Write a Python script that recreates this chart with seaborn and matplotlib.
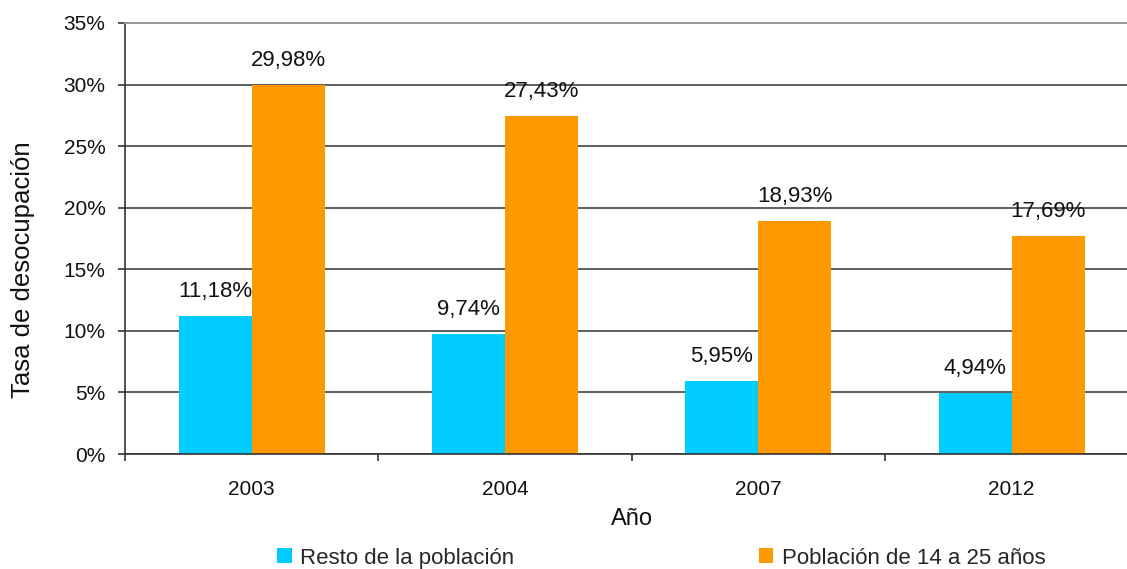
import matplotlib
matplotlib.use("Agg")
import matplotlib.pyplot as plt
import pandas as pd
import seaborn as sns
from matplotlib.patches import Patch
from matplotlib.ticker import FixedLocator

years = ["2003", "2004", "2007", "2012"]
series = ["Resto de la población", "Población de 14 a 25 años"]
resto = [11.18, 9.74, 5.95, 4.94]
jovenes = [29.98, 27.43, 18.93, 17.69]
colors = ["#00CCFF", "#FF9900"]

df = pd.DataFrame({
    "Año": years * 2,
    "grupo": [series[0]] * 4 + [series[1]] * 4,
    "tasa": resto + jovenes,
})

sns.set_theme(style="white")
plt.rcParams["font.family"] = ["Liberation Sans", "DejaVu Sans"]

fig = plt.figure(figsize=(11.27, 5.69), dpi=100)
ax = fig.add_axes([0.1109, 0.2021, 0.8991, 0.7575])

sns.barplot(data=df, x="Año", y="tasa", hue="grupo", hue_order=series,
            palette=colors, width=0.576, gap=0, saturation=1, ax=ax,
            legend=False, edgecolor="none")

# value labels
for cont, vals in zip(ax.containers, [resto, jovenes]):
    ax.bar_label(cont, labels=[f"{v:.2f}%".replace(".", ",") for v in vals],
                 padding=10, fontsize=16, color="#111111")

ax.set_xlim(-0.5, 3.5)
ax.set_ylim(0, 35)
ax.set_yticks(range(0, 36, 5))
ax.set_yticklabels([f"{v}%" for v in range(0, 36, 5)])
ax.yaxis.grid(True, color="#333333", lw=1.1)
ax.set_axisbelow(True)

ax.xaxis.set_minor_locator(FixedLocator([-0.5, 0.5, 1.5, 2.5, 3.5]))
ax.tick_params(axis="x", which="major", length=0, pad=19, labelsize=15, colors="#111111")
ax.tick_params(axis="x", which="minor", length=5, width=1.2, color="#333333", direction="out", bottom=True)
ax.tick_params(axis="y", length=5, width=1.2, color="#333333", direction="out", left=True,
               pad=9, labelsize=15, labelcolor="#111111")

for s in ["left", "bottom"]:
    ax.spines[s].set_color("#333333")
    ax.spines[s].set_linewidth(1.2)
ax.spines["top"].set_color("#999999")
ax.spines["top"].set_linewidth(1.4)
ax.spines["right"].set_visible(False)

ax.set_xlabel("Año", fontsize=17, color="#111111", labelpad=6)
ax.set_ylabel("Tasa de desocupación", fontsize=18.5, color="#111111")
ax.yaxis.set_label_coords(-0.089, 0.427)

handles = [Patch(facecolor=c, edgecolor="none") for c in colors]
fig.legend(handles, series, loc="center", bbox_to_anchor=(0.587, 0.019), ncol=2,
           frameon=False, fontsize=16, handlelength=0.65, handleheight=0.65,
           handletextpad=0.4, columnspacing=11.0)

fig.savefig("out.png", dpi=100)
